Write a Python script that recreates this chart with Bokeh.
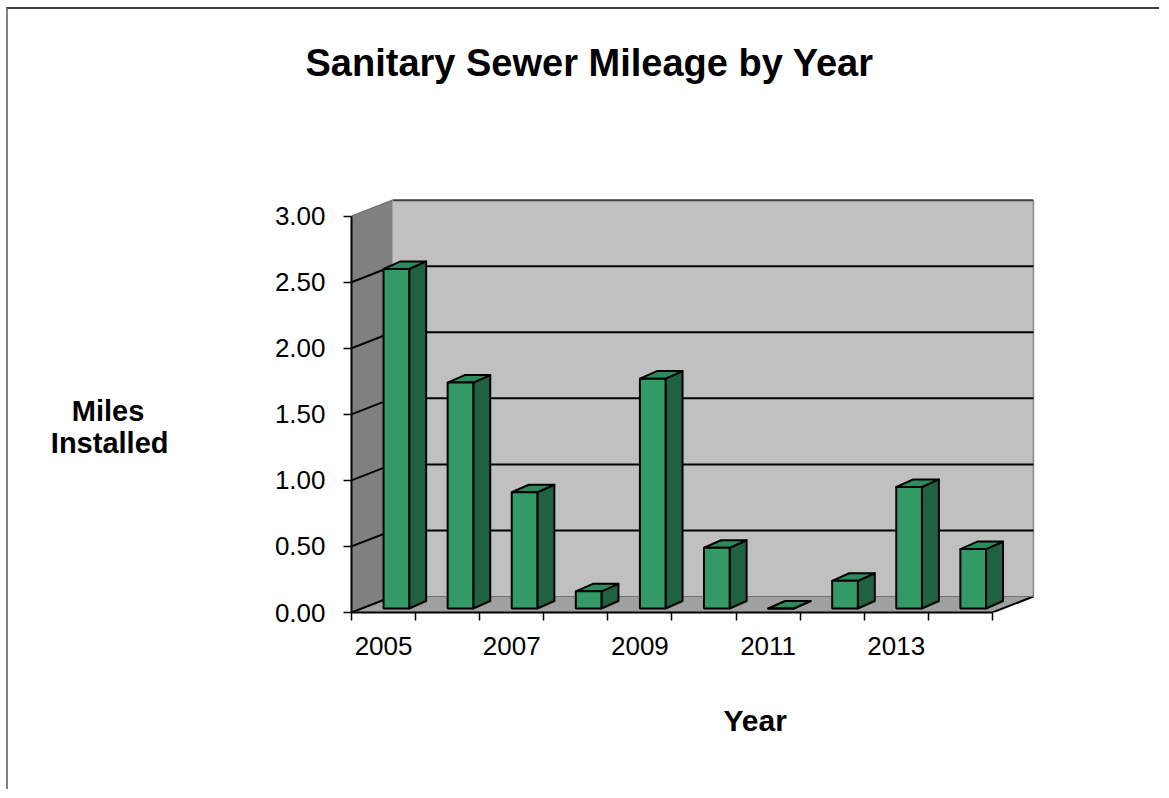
import numpy as np
from bokeh.plotting import figure
from bokeh.models import FixedTicker, NumeralTickFormatter, Range1d, LinearAxis, Title
from bokeh.embed import file_html
from bokeh.resources import INLINE

# ---- data ----
years = ["2005", "2006", "2007", "2008", "2009", "2010", "2011", "2012", "2013", "2014"]
miles = [2.57, 1.71, 0.88, 0.13, 1.74, 0.46, 0.0, 0.21, 0.92, 0.45]
y_ticks = [0.0, 0.5, 1.0, 1.5, 2.0, 2.5, 3.0]
x_label_years = ["2005", "2007", "2009", "2011", "2013"]

# ---- 3D style constants ----
D_X, D_Y = 0.64, 0.121        # depth of the chart box
B_X0, B_W = 0.50, 0.40        # bar front-face offset & width within category
B_Y0 = 0.03                   # bar base
B_DX, B_DY = 0.265, 0.057     # bar depth
FRONT, SIDE, TOP = "#339966", "#1f6140", "#2d8a5c"
FONT = "Liberation Sans"

n = len(years)
p = figure(width=1153, height=782, output_backend="svg", toolbar_location=None,
           x_range=Range1d(0, 11), y_range=Range1d(0, 3.3),
           min_border_left=343, min_border_right=105, min_border_top=167, min_border_bottom=179)
p.styles = {"border-top": "2px solid #404040", "border-left": "2px solid #808080",
            "margin-left": "6px", "margin-top": "7px"}
p.outline_line_color = None
p.xgrid.visible = False
p.ygrid.visible = False
p.background_fill_color = "white"
p.border_fill_color = "white"

# title (trailing empty lines lift it away from the plot)
p.title.text = "Sanitary Sewer Mileage by Year\n\n"
p.title.text_font = FONT
p.title.text_font_size = "38px"
p.title.text_font_style = "bold"
p.title.text_color = "black"
p.title.text_line_height = 1.0
p.title.align = "left"
p.title.offset = -46
p.title.standoff = 18

# walls & floor
p.patch([0, D_X, D_X, 0], [0, D_Y, 3 + D_Y, 3], fill_color="#808080", line_color=None)
p.quad(left=[D_X], right=[n + D_X], bottom=[D_Y], top=[3 + D_Y], fill_color="#c0c0c0", line_color=None)
p.patch([0, n, n + D_X, D_X], [0, 0, D_Y, D_Y], fill_color="#a0a0a0", line_color=None)
p.line([n + D_X, n + D_X], [D_Y, 3 + D_Y], line_color="#8a8a8a", line_width=1.5)
p.line([n, n + D_X], [0, D_Y], line_color="black", line_width=2)

# gridlines
for v in y_ticks:
    if v == 0:
        p.line([D_X, n + D_X], [D_Y, D_Y], line_color="#707070", line_width=1)
        p.line([0, D_X], [0, D_Y], line_color="black", line_width=2)
    elif v == 3.0:
        p.line([D_X, n + D_X], [v + D_Y, v + D_Y], line_color="#404040", line_width=2)
        p.line([0, D_X], [v, v + D_Y], line_color="#707070", line_width=1.5)
        p.line([D_X, D_X], [D_Y, v + D_Y], line_color="#a0a0a0", line_width=1)
    else:
        p.line([D_X, n + D_X], [v + D_Y, v + D_Y], line_color="black", line_width=2)
        p.line([0, D_X], [v, v + D_Y], line_color="black", line_width=2)

# bars
idx = np.arange(n)
vals = np.array(miles)
x0 = idx + B_X0
x1 = x0 + B_W
ytop = B_Y0 + vals
side_xs = [[a, a + B_DX, a + B_DX, a] for a in x1]
side_ys = [[B_Y0, B_Y0 + B_DY, t + B_DY, t] for t in ytop]
top_xs = [[a, b, b + B_DX, a + B_DX] for a, b in zip(x0, x1)]
top_ys = [[t, t, t + B_DY, t + B_DY] for t in ytop]
p.patches(side_xs, side_ys, fill_color=SIDE, line_color="black", line_width=2, line_join="round")
p.patches(top_xs, top_ys, fill_color=TOP, line_color="black", line_width=2, line_join="round")
p.quad(left=x0, right=x1, bottom=B_Y0, top=ytop, fill_color=FRONT, line_color="black", line_width=2)

# axes
yax = p.yaxis[0]
yax.ticker = FixedTicker(ticks=y_ticks)
yax.formatter = NumeralTickFormatter(format="0.00")
yax.bounds = (0, 3)
yax.major_tick_out = 8
yax.major_tick_in = 0
yax.minor_tick_out = 0
yax.minor_tick_in = 0
yax.major_label_standoff = 18
yax.major_label_text_font = FONT
yax.major_label_text_font_size = "26px"
yax.major_label_text_color = "black"
yax.axis_line_color = "black"
yax.axis_line_width = 2
yax.major_tick_line_width = 1.5

label_pos = [years.index(y) + 0.5 for y in x_label_years]
xax = p.xaxis[0]
xax.ticker = FixedTicker(ticks=label_pos, minor_ticks=list(range(n + 1)))
xax.major_label_overrides = {pos: lab for pos, lab in zip(label_pos, x_label_years)}
xax.bounds = (0, n)
xax.major_tick_out = 0
xax.major_tick_in = 0
xax.minor_tick_out = 8
xax.minor_tick_in = 0
xax.minor_tick_line_color = "black"
xax.minor_tick_line_width = 1.5
xax.major_label_standoff = 16
xax.major_label_text_font = FONT
xax.major_label_text_font_size = "26px"
xax.major_label_text_color = "black"
xax.axis_line_color = "black"
xax.axis_line_width = 2

# "Year" title below
p.add_layout(Title(text="Year", align="left", offset=372, standoff=88, text_font=FONT,
                   text_font_size="30px", text_font_style="bold", text_color="black"), "below")

# "Miles Installed" axis title (extra axis, horizontal text)
miles_ax = LinearAxis()
miles_ax.ticker = FixedTicker(ticks=[])
miles_ax.axis_line_color = None
miles_ax.major_tick_line_color = None
miles_ax.minor_tick_line_color = None
miles_ax.major_label_text_font_size = "0px"
miles_ax.axis_label = "\n\nMiles\u00a0\u00a0\u00a0\nInstalled"
miles_ax.axis_label_text_font = FONT
miles_ax.axis_label_text_font_size = "29px"
miles_ax.axis_label_text_font_style = "bold"
miles_ax.axis_label_text_color = "black"
miles_ax.axis_label_text_line_height = 1.0
miles_ax.axis_label_standoff = 103
if hasattr(miles_ax, "axis_label_orientation"):
    miles_ax.axis_label_orientation = "horizontal"
p.add_layout(miles_ax, "left")

open("out.html", "w").write(file_html(p, INLINE))
